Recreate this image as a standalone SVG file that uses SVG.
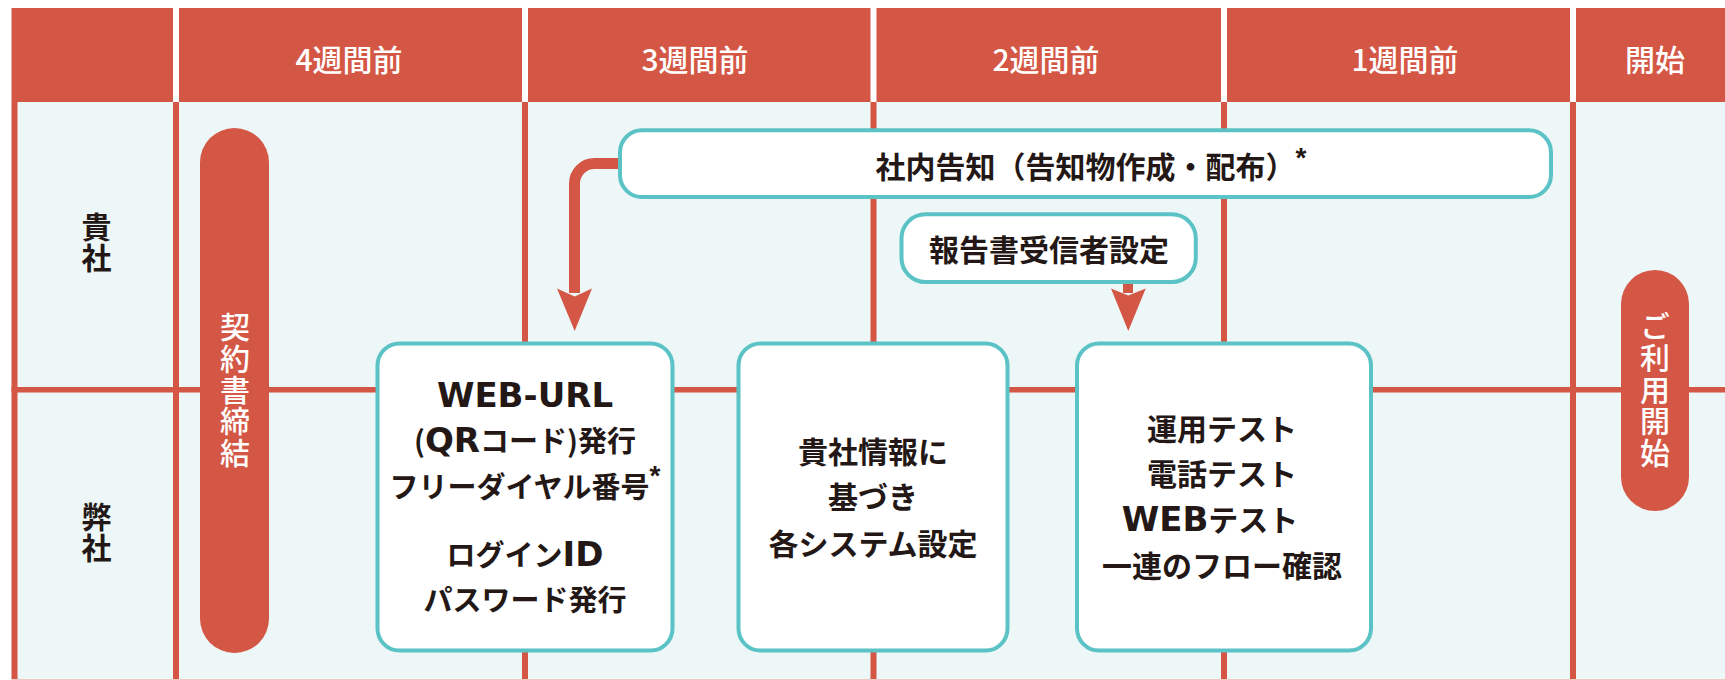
<svg xmlns="http://www.w3.org/2000/svg" width="1725" height="680" viewBox="0 0 1725 680">
<style>
.red{fill:#D45745}
.bg{fill:#EDF7F8}
.htxt{font-family:"Noto Sans CJK JP",sans-serif;font-size:30px;font-weight:500;fill:#ffffff;text-anchor:middle}
.node{fill:#ffffff;stroke:#5BC2C6;stroke-width:4}
.txt{font-family:"Noto Sans CJK JP",sans-serif;font-size:30px;font-weight:700;fill:#231815;text-anchor:middle}
.t29{font-size:29px}
.lat{font-family:"DejaVu Sans","Noto Sans",sans-serif;font-size:34px;font-weight:700}
.ast{font-family:"Liberation Sans",sans-serif;font-size:28px;font-weight:700}
.vert{writing-mode:vertical-rl;text-orientation:upright;font-family:"Noto Sans CJK JP",sans-serif;font-size:30px;text-anchor:start}
.ptxt{font-weight:500;fill:#ffffff;letter-spacing:1.3px}
.side{font-weight:700;fill:#231815;letter-spacing:1px}
.conn{fill:none;stroke:#D45745;stroke-width:11}
</style>
<g id="grid">
<rect class="bg" x="11.5" y="102" width="1713.5" height="577"/>
<rect x="11.5" y="679" width="1713.5" height="1" fill="#ECC9C3"/>
<rect class="red" x="11.5" y="8" width="161.5" height="94"/>
<rect class="red" x="179" y="8" width="343" height="94"/>
<rect class="red" x="528" y="8" width="342.5" height="94"/>
<rect class="red" x="876.5" y="8" width="344.5" height="94"/>
<rect class="red" x="1227" y="8" width="343" height="94"/>
<rect class="red" x="1576" y="8" width="149" height="94"/>
<rect class="red" x="11.5" y="102" width="6" height="577"/>
<rect class="red" x="173" y="102" width="6" height="577"/>
<rect class="red" x="522" y="102" width="6" height="577"/>
<rect class="red" x="870.5" y="102" width="6" height="577"/>
<rect class="red" x="1221" y="102" width="6" height="577"/>
<rect class="red" x="1570" y="102" width="6" height="577"/>
<rect class="red" x="11.5" y="387" width="1713.5" height="5.5"/>
<text class="htxt" x="349" y="71">4週間前</text>
<text class="htxt" x="695" y="71">3週間前</text>
<text class="htxt" x="1046" y="71">2週間前</text>
<text class="htxt" x="1405" y="71">1週間前</text>
<text class="htxt" x="1655" y="71">開始</text>
<text class="vert side" x="96.5" y="212">貴社</text>
<text class="vert side" x="96.5" y="502">弊社</text>
</g>
<g id="connectors">
<path class="conn" d="M 622 163.5 H 594.5 A 20 20 0 0 0 574.5 183.5 V 293"/>
<polygon class="red" points="557,288.5 574.7,296.5 592,288.5 574.7,331"/>
<path class="conn" d="M 1128 282 V 293" style="stroke-width:10"/>
<polygon class="red" points="1111,288.5 1128.3,295.5 1145.7,288.5 1128.3,331"/>
</g>
<g id="n_contract">
<rect class="red" x="200" y="128" width="69" height="525" rx="34.5"/>
<text class="vert ptxt" x="235" y="312">契約書締結</text>
</g>
<g id="n_notice">
<rect class="node" x="620" y="130.3" width="931" height="66.7" rx="22"/>
<text class="txt" x="1091" y="178">社内告知（告知物作成・配布）<tspan class="ast" dy="-11">*</tspan></text>
</g>
<g id="n_report">
<rect class="node" x="901.5" y="214.3" width="294.3" height="67.7" rx="24"/>
<text class="txt" x="1049" y="261">報告書受信者設定</text>
</g>
<g id="n_web">
<rect class="node" x="377.5" y="343.5" width="295" height="307" rx="22"/>
<text class="txt" x="525" y="407"><tspan class="lat">WEB-URL</tspan></text>
<text class="txt t29" x="525" y="452">(<tspan class="lat">QR</tspan>コード)発行</text>
<text class="txt t29" x="525" y="498">フリーダイヤル番号<tspan class="ast" dy="-13">*</tspan></text>
<text class="txt t29" x="525" y="566">ログイン<tspan class="lat">ID</tspan></text>
<text class="txt t29" x="525" y="611">パスワード発行</text>
</g>
<g id="n_system">
<rect class="node" x="738.5" y="343.5" width="269" height="307" rx="22"/>
<text class="txt" x="873" y="463">貴社情報に</text>
<text class="txt" x="873" y="508">基づき</text>
<text class="txt" x="873" y="555">各システム設定</text>
</g>
<g id="n_test">
<rect class="node" x="1077" y="343.5" width="294" height="307" rx="22"/>
<text class="txt" x="1222" y="440">運用テスト</text>
<text class="txt" x="1222" y="485">電話テスト</text>
<text class="txt" x="1210" y="531"><tspan class="lat">WEB</tspan>テスト</text>
<text class="txt" x="1222" y="577">一連のフロー確認</text>
</g>
<g id="n_start">
<rect class="red" x="1621" y="270" width="68" height="241" rx="34"/>
<text class="vert ptxt" x="1655" y="311" style="letter-spacing:1.6px">ご利用開始</text>
</g>
</svg>
